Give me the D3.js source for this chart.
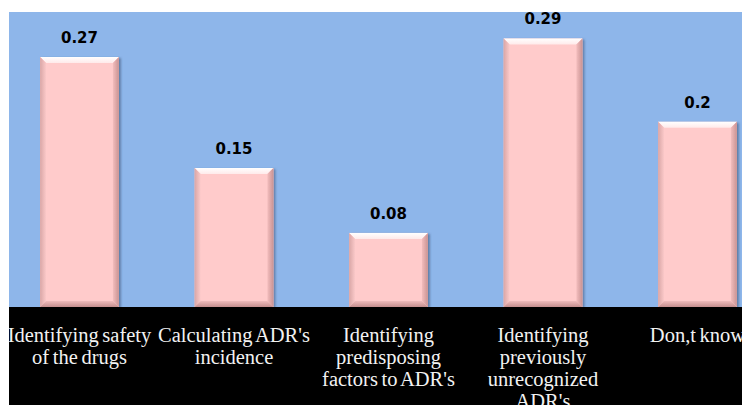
<!DOCTYPE html>
<html><head><meta charset="utf-8">
<script src="https://cdn.jsdelivr.net/npm/d3@7"></script>
<style>body{margin:0;background:#fff;}svg{display:block;}</style>
</head><body>
<svg id="chart" width="742" height="405"></svg>
<script>
const categories = [
  ["Identifying safety", "of the drugs"],
  ["Calculating ADR's", "incidence"],
  ["Identifying", "predisposing", "factors to ADR's"],
  ["Identifying", "previously", "unrecognized", "ADR's"],
  ["Don,t know"]
];
const values = [0.27, 0.15, 0.08, 0.29, 0.2];
const valueLabels = ["0.27", "0.15", "0.08", "0.29", "0.2"];

const svg = d3.select("#chart");
const plotLeft = 9, plotTop = 12, baseY = 307;

const defs = svg.append("defs");
const f = defs.append("filter").attr("id","sh").attr("x","-20%").attr("y","-20%").attr("width","140%").attr("height","140%");
f.append("feDropShadow").attr("dx",2).attr("dy",1).attr("stdDeviation",1.2).attr("flood-color","#3a4f70").attr("flood-opacity",0.55);
const gTop = defs.append("linearGradient").attr("id","gtop").attr("x1",0).attr("y1",0).attr("x2",0).attr("y2",1);
gTop.append("stop").attr("offset","0%").attr("stop-color","#ffffff");
gTop.append("stop").attr("offset","100%").attr("stop-color","#ffeaea");
const gR = defs.append("linearGradient").attr("id","gright").attr("x1",0).attr("y1",0).attr("x2",1).attr("y2",0);
gR.append("stop").attr("offset","0%").attr("stop-color","#f3bdbd");
gR.append("stop").attr("offset","100%").attr("stop-color","#c99393");
const gL = defs.append("linearGradient").attr("id","gleft").attr("x1",0).attr("y1",0).attr("x2",1).attr("y2",0);
gL.append("stop").attr("offset","0%").attr("stop-color","#d9a6a6");
gL.append("stop").attr("offset","100%").attr("stop-color","#fbc9c9");
const gB = defs.append("linearGradient").attr("id","gbot").attr("x1",0).attr("y1",0).attr("x2",0).attr("y2",1);
gB.append("stop").attr("offset","0%").attr("stop-color","#f0bcbc");
gB.append("stop").attr("offset","100%").attr("stop-color","#c48e8e");

// background
svg.append("rect").attr("x",plotLeft).attr("y",plotTop).attr("width",742-plotLeft).attr("height",baseY-plotTop).attr("fill","#8eb6ea");

const x = d3.scaleBand().domain(d3.range(values.length)).range([2.25, 774.75]).paddingInner(0.49).paddingOuter(0.245);
const y = d3.scaleLinear().domain([0, 0.3186]).range([baseY, plotTop]);

const bw = x.bandwidth(), b = 6;
const bars = svg.append("g").selectAll("g").data(values).join("g");
bars.each(function(d,i){
  const g = d3.select(this);
  const x0 = x(i), x1 = x0 + bw, y0 = y(d), y1 = y(0);
  g.append("rect").attr("x",x0).attr("y",y0).attr("width",bw).attr("height",y1-y0).attr("fill","#ffcbcb").attr("filter","url(#sh)");
  g.append("polygon").attr("points",[[x0,y0],[x1,y0],[x1-b,y0+b],[x0+b,y0+b]].join(" ")).attr("fill","url(#gtop)");
  g.append("polygon").attr("points",[[x1,y0],[x1,y1],[x1-b,y1-b],[x1-b,y0+b]].join(" ")).attr("fill","url(#gright)");
  g.append("polygon").attr("points",[[x0,y0],[x0+b,y0+b],[x0+b,y1-b],[x0,y1]].join(" ")).attr("fill","url(#gleft)");
  g.append("polygon").attr("points",[[x0,y1],[x0+b,y1-b],[x1-b,y1-b],[x1,y1]].join(" ")).attr("fill","url(#gbot)");
});

svg.append("g").selectAll("text").data(values).join("text")
  .attr("x",(d,i)=>x(i)+bw/2).attr("y",d=>y(d)-14)
  .attr("text-anchor","middle").attr("font-family","DejaVu Sans, sans-serif").attr("font-weight","bold").attr("font-size",15)
  .attr("fill","#000").text((d,i)=>valueLabels[i]);

// black category band
svg.append("rect").attr("x",plotLeft).attr("y",baseY).attr("width",742-plotLeft).attr("height",405-baseY).attr("fill","#000");

const lbl = svg.append("g").selectAll("text").data(categories).join("text")
  .attr("text-anchor","middle").attr("font-family","Liberation Serif, Times New Roman, serif").attr("font-size",20.5)
  .attr("word-spacing","-1.5").attr("fill","#f2f2f2");
lbl.each(function(lines,i){
  const t = d3.select(this);
  lines.forEach((s,j)=>{
    t.append("tspan").attr("x",x(i)+bw/2).attr("y",342+j*22).text(s);
  });
});
</script>
</body></html>
